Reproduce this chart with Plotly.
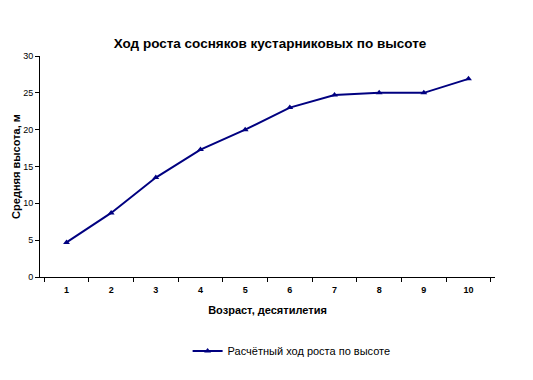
import plotly.graph_objects as go

ages = ["1", "2", "3", "4", "5", "6", "7", "8", "9", "10"]
heights = [4.7, 8.7, 13.5, 17.3, 20.0, 23.0, 24.7, 25.0, 25.0, 26.9]
series_name = "Расчётный ход роста по высоте"
title_text = "Ход роста сосняков кустарниковых по высоте"
x_title = "Возраст, десятилетия"
y_title = "Средняя высота, м"

fig = go.Figure()
fig.add_trace(go.Scatter(
    x=ages, y=heights, mode="lines+markers", name=series_name,
    line=dict(color="#000080", width=2),
    marker=dict(symbol="triangle-up", size=6, color="#000080"),
))

fig.update_layout(
    width=533, height=380,
    paper_bgcolor="white", plot_bgcolor="white",
    margin=dict(l=32, r=46, t=48, b=111, autoexpand=False),
    font=dict(family="Liberation Sans, Arial, sans-serif", color="black"),
    title=dict(text="<b>" + title_text + "</b>", x=(270 - 8) / 533, xanchor="center", xref="container",
               y=1 - 35 / 380, yanchor="middle", yref="container", font=dict(size=13.5),
               automargin=False),
    showlegend=True,
    legend=dict(orientation="h", x=0.553, xanchor="center", y=-0.335, yanchor="middle",
                font=dict(size=11), itemwidth=30, bgcolor="rgba(0,0,0,0)"),
    xaxis=dict(type="category", showline=True, linecolor="black", linewidth=1,
               ticks="outside", tickson="boundaries", ticklen=4, tickcolor="black",
               showgrid=False, zeroline=False, automargin=False,
               tickfont=dict(size=9), ticklabelstandoff=4,
               title=dict(text="<b>" + x_title + "</b>", font=dict(size=11), standoff=12)),
    yaxis=dict(range=[0, 30], tickvals=[0, 5, 10, 15, 20, 25, 30],
               showline=True, linecolor="black", linewidth=1,
               ticks="outside", ticklen=4, tickcolor="black",
               showgrid=False, zeroline=False, automargin=False,
               tickfont=dict(size=9),
               title=dict(text="<b>" + y_title + "</b>", font=dict(size=11), standoff=0)),
)
fig.update_xaxes(tickprefix="<b>", ticksuffix="</b>")
fig.update_yaxes(tickprefix="<b>", ticksuffix="</b>")

fig.write_html("out.html")
